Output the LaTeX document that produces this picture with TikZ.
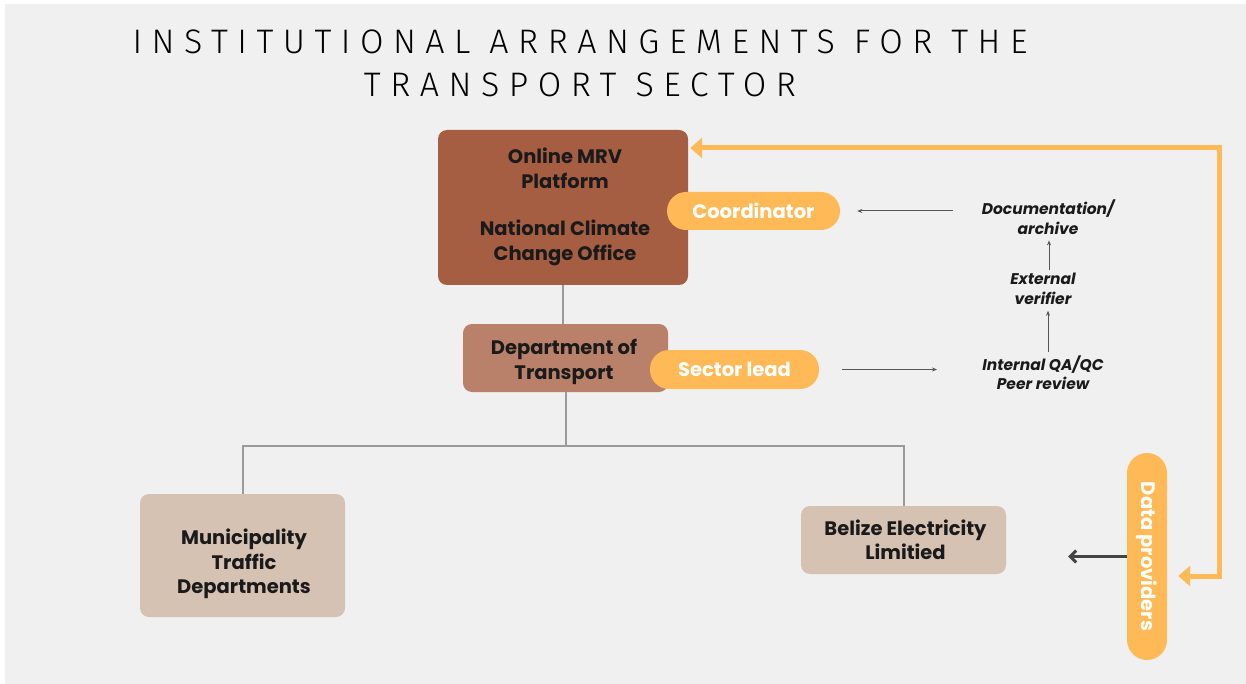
\documentclass[tikz,border=0pt]{standalone}
\usepackage{fontspec}
\setmainfont{Poppins}
\newfontfamily\titlefont[LetterSpace=28]{Fira Sans Light}
\usetikzlibrary{arrows.meta,calc}
\definecolor{bg}{HTML}{F0F0F0}
\definecolor{topc}{HTML}{A55E42}
\definecolor{dotc}{HTML}{B98169}
\definecolor{lightc}{HTML}{D6C2B3}
\definecolor{orng}{HTML}{FFBA57}
\definecolor{txt}{HTML}{1A1A1A}
\definecolor{linegray}{HTML}{9A9A9A}
\definecolor{arrgray}{HTML}{555555}
\definecolor{darkgray}{HTML}{444444}
\begin{document}
\begin{tikzpicture}[x=1pt,y=-1pt,
  box/.style={rounded corners=9pt, inner sep=0pt},
  boxtext/.style={text=txt, align=center, inner sep=0pt,
    font=\bfseries\fontsize{19.5}{24.5}\selectfont},
  pill/.style={rounded corners=19pt, fill=orng, text=white, inner sep=0pt,
    font=\bfseries\fontsize{19.5}{22}\selectfont},
  ital/.style={text=txt, align=center, inner sep=0pt,
    font=\bfseries\itshape\fontsize{15.5}{19.5}\selectfont},
  conn/.style={draw=linegray, line width=2pt},
  thinarr/.style={draw=arrgray, line width=1pt, -{Stealth[length=5pt,width=4pt]}},
  orarr/.style={draw=orng, line width=5pt, {Triangle[length=12pt,width=20pt]}-{Triangle[length=12pt,width=20pt]}},
  darkarr/.style={draw=darkgray, line width=3pt, -{Straight Barb[length=6pt,width=12pt]}},
  title/.style={inner sep=0pt, text=black, font=\titlefont\fontsize{34}{40}\selectfont}
]
\useasboundingbox (0,0) rectangle (1246,684);
\fill[white] (0,0) rectangle (1246,684);
\fill[bg] (5,4) rectangle (1246,684);

\node[title] (t1) at (580,42) {INSTITUTIONAL ARRANGEMENTS FOR THE};
\node[title] (t2) at (580,85) {TRANSPORT SECTOR};

\node[box, fill=topc, minimum width=250pt, minimum height=155pt] (top) at (563,207.5) {};
\node[boxtext] (topt) at (565,207) {Online MRV\\Platform\\[23pt]National Climate\\Change Office};
\node[box, fill=dotc, minimum width=205pt, minimum height=68pt] (dot) at (565.5,358) {};
\node[boxtext] (dott) at (564,362) {Department of\\Transport};
\node[box, fill=lightc, minimum width=205pt, minimum height=123pt] (muni) at (242.5,555.5) {};
\node[boxtext] (munit) at (244,564) {Municipality\\Traffic\\Departments};
\node[box, fill=lightc, minimum width=205pt, minimum height=68pt] (bel) at (903.5,540) {};
\node[boxtext] (belt) at (905.5,540) {Belize Electricity\\Limitied};

\node[pill, minimum width=173pt, minimum height=38pt] (coord) at (753.5,211) {Coordinator};
\node[pill, minimum width=169pt, minimum height=39pt] (sector) at (734.5,369.5) {Sector lead};

\node[ital] (doc) at (1048,217) {Documentation/\\archive};
\node[ital] (ext) at (1043,289) {External\\verifier};
\node[ital] (qa) at (1043,372.5) {Internal QA/QC\\Peer review};

% tree connectors
\draw[conn] (top.south) -- (top.south |- dot.north);
\coordinate (hub) at (565.5,446);
\draw[conn] (dot.south) -- (hub);
\draw[conn] (muni.north) |- (hub) -| (bel.north);

% QA flow
\coordinate (qain) at (937,369.5);
\draw[thinarr, shorten <=23pt] (sector.east) -- (qain);
\draw[thinarr, shorten <=3pt, shorten >=6pt] (qa.north -| 1048,0) -- (ext.south -| 1048,0);
\draw[thinarr, shorten <=3pt, shorten >=6pt] (ext.north -| 1049,0) -- (doc.south -| 1049,0);
\coordinate (docout) at (953,211);
\draw[thinarr, shorten >=17pt] (docout) -- (coord.east);

% data providers pill
\node[pill, rotate=-90, rounded corners=20pt, minimum width=207pt, minimum height=40pt] (data) at (1147,556.5) {Data providers};

% orange feedback arrow
\coordinate (c1) at (1219,148);
\coordinate (c2) at (1219,576);
\draw[orarr, shorten <=2pt, shorten >=11pt] (c1 -| top.east) -- (c1) -- (c2) -- (c2 -| data.north);

% data providers to BEL
\coordinate (dpend) at (1068,556.5);
\draw[darkarr] (data.south) -- (dpend);
\end{tikzpicture}
\end{document}
